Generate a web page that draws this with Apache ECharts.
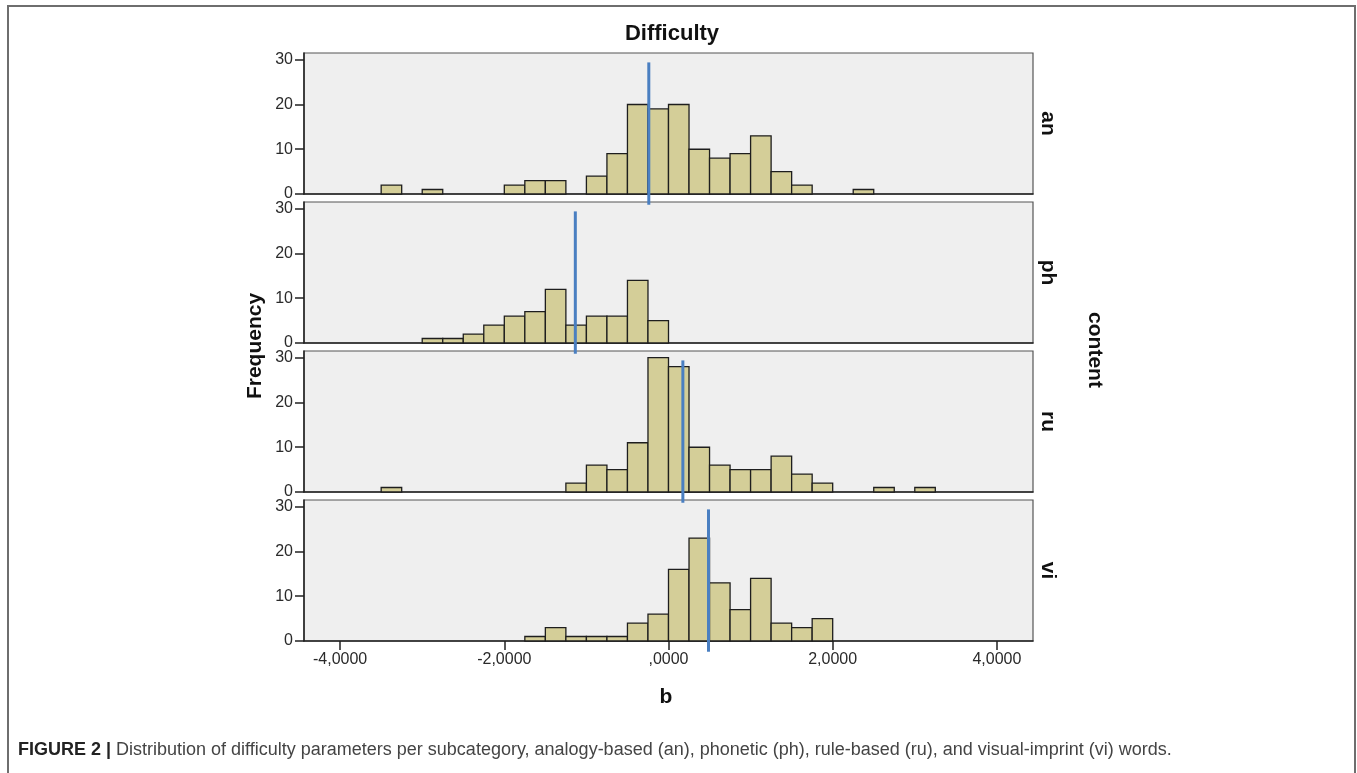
<!DOCTYPE html>
<html>
<head>
<meta charset="utf-8">
<script src="https://cdn.jsdelivr.net/npm/echarts@6/dist/echarts.min.js"></script>
<style>
html,body{margin:0;padding:0;background:#fff;}
#chart{width:1357px;height:773px;}
</style>
</head>
<body>
<div id="chart"></div>
<script>
// ---- data ----
var panelNames = ['an', 'ph', 'ru', 'vi'];
var binEdges = [-3.5, -3.25, -3.0, -2.75, -2.5, -2.25, -2.0, -1.75, -1.5, -1.25, -1.0, -0.75, -0.5, -0.25,
                0.0, 0.25, 0.5, 0.75, 1.0, 1.25, 1.5, 1.75, 2.0, 2.25, 2.5, 2.75, 3.0, 3.25];
var binWidth = 0.25;
var anCounts = [2,0,1,0,0,0,2,3,3,0,4,9,20,19,20,10,8,9,13,5,2,0,0,1,0,0,0,0];
var phCounts = [0,0,1,1,2,4,6,7,12,4,6,6,14,5,0,0,0,0,0,0,0,0,0,0,0,0,0,0];
var ruCounts = [1,0,0,0,0,0,0,0,0,2,6,5,11,30,28,10,6,5,5,8,4,2,0,0,1,0,1,0];
var viCounts = [0,0,0,0,0,0,0,1,3,1,1,1,4,6,16,23,13,7,14,4,3,5,0,0,0,0,0,0];
var panelCounts = [anCounts, phCounts, ruCounts, viCounts];
var panelMeans = [-0.24, -1.135, 0.175, 0.487];
var yTicks = [0, 10, 20, 30];
var xTicks = [-4, -2, 0, 2, 4];
var titleText = 'Difficulty';
var xAxisName = 'b';
var yAxisName = 'Frequency';
var rightName = 'content';
var captionBold = 'FIGURE 2 |';
var captionText = ' Distribution of difficulty parameters per subcategory, analogy-based (an), phonetic (ph), rule-based (ru), and visual-imprint (vi) words.';

// ---- layout / style ----
var FONT = '"Liberation Sans", Arial, sans-serif';
var gridTops = [53, 202, 351, 500];
var gridH = 141;
var gridLeft = 304;
var gridRight = 324;
var xMin = -4.44, xMax = 4.44;
var yMax = 31.5;
var lineTop = 29.4, lineBottom = -2.4;

function fmtX(v) {
  if (v === 0) return ',0000';
  return v.toFixed(4).replace('.', ',');
}

var grids = [], xAxes = [], yAxes = [], series = [], graphics = [];

panelNames.forEach(function (name, i) {
  var last = i === panelNames.length - 1;
  grids.push({
    left: gridLeft, right: gridRight, top: gridTops[i], height: gridH,
    show: true, backgroundColor: '#efefef', borderColor: '#555', borderWidth: 1.2
  });
  xAxes.push({
    type: 'value', gridIndex: i, min: xMin, max: xMax,
    axisLine: { show: true, onZero: false, lineStyle: { color: '#222', width: 1.5 } },
    axisTick: { show: last, length: 9, customValues: xTicks, lineStyle: { color: '#222', width: 1.5 } },
    axisLabel: { show: last, customValues: xTicks, formatter: fmtX, color: '#2a2a2a',
                 fontFamily: FONT, fontSize: 16, margin: 11 },
    splitLine: { show: false }
  });
  yAxes.push({
    type: 'value', gridIndex: i, min: 0, max: yMax,
    axisLine: { show: true, onZero: false, lineStyle: { color: '#222', width: 1.5 } },
    axisTick: { show: true, length: 9, customValues: yTicks, lineStyle: { color: '#222', width: 1.5 } },
    axisLabel: { show: true, customValues: yTicks, color: '#2a2a2a', fontFamily: FONT, fontSize: 16, margin: 11 },
    splitLine: { show: false }
  });
  var data = [];
  panelCounts[i].forEach(function (c, k) {
    if (c > 0) data.push([binEdges[k], binEdges[k] + binWidth, c]);
  });
  series.push({
    type: 'custom', xAxisIndex: i, yAxisIndex: i, data: data,
    renderItem: function (params, api) {
      var p0 = api.coord([api.value(0), api.value(2)]);
      var p1 = api.coord([api.value(1), 0]);
      return {
        type: 'rect',
        shape: { x: p0[0], y: p0[1], width: p1[0] - p0[0], height: p1[1] - p0[1] },
        style: { fill: '#d4ce98', stroke: '#1e1e1e', lineWidth: 1.3 }
      };
    },
    z: 2
  });
  series.push({
    type: 'line', xAxisIndex: i, yAxisIndex: i, clip: false, symbol: 'none',
    data: [[panelMeans[i], lineTop], [panelMeans[i], lineBottom]],
    lineStyle: { color: '#4a7fc1', width: 3 }, z: 10, silent: true
  });
  graphics.push({
    type: 'text', x: 1048, y: gridTops[i] + gridH / 2, rotation: -Math.PI / 2,
    style: { text: name, font: 'bold 21px ' + FONT, fill: '#111', align: 'center', verticalAlign: 'middle' }
  });
});

graphics.push(
  { type: 'rect', shape: { x: 8, y: 6, width: 1347, height: 800 },
    style: { fill: 'none', stroke: '#6e6e6e', lineWidth: 2 }, silent: true },
  { type: 'text', x: 672, y: 34,
    style: { text: titleText, font: 'bold 22px ' + FONT, fill: '#111', align: 'center', verticalAlign: 'middle' } },
  { type: 'text', x: 255, y: 346, rotation: Math.PI / 2,
    style: { text: yAxisName, font: 'bold 21px ' + FONT, fill: '#111', align: 'center', verticalAlign: 'middle' } },
  { type: 'text', x: 1095, y: 350, rotation: -Math.PI / 2,
    style: { text: rightName, font: 'bold 21px ' + FONT, fill: '#111', align: 'center', verticalAlign: 'middle' } },
  { type: 'text', x: 666, y: 697,
    style: { text: xAxisName, font: 'bold 21px ' + FONT, fill: '#111', align: 'center', verticalAlign: 'middle' } },
  { type: 'text', x: 18, y: 750,
    style: {
      text: '{b|' + captionBold + '}{n|' + captionText + '}',
      verticalAlign: 'middle',
      rich: {
        b: { font: 'bold 18px ' + FONT, fill: '#222' },
        n: { font: '18px ' + FONT, fill: '#444' }
      }
    } }
);

var chart = echarts.init(document.getElementById('chart'), null, { renderer: 'canvas' });
chart.setOption({
  animation: false,
  backgroundColor: '#fff',
  grid: grids,
  xAxis: xAxes,
  yAxis: yAxes,
  series: series,
  graphic: graphics
});
</script>
</body>
</html>
